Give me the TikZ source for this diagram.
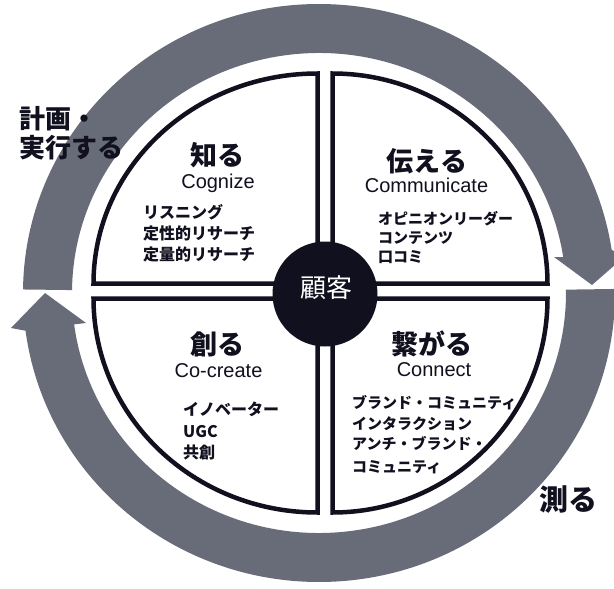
\documentclass[tikz,border=0pt]{standalone}
\usepackage{fontspec}
\setmainfont{Liberation Sans}
\newfontfamily\jp{Noto Sans CJK JP}
\usetikzlibrary{calc}
\definecolor{ringgray}{RGB}{104,108,120}
\definecolor{inkblack}{RGB}{16,16,30}
\begin{document}
\begin{tikzpicture}[x=1pt,y=-1pt,
  quad/.style={draw=inkblack,line width=4.5pt,fill=white,line join=miter},
  ringarrow/.style={fill=ringgray},
  jtitle/.style={font=\jp\bfseries\fontsize{27}{30}\selectfont,inner sep=0pt,text=inkblack},
  etitle/.style={font=\fontsize{20}{22}\selectfont,inner sep=0pt,anchor=base,text=inkblack},
  itemlist/.style={align=left,anchor=north west,inner sep=0pt,text=inkblack},
  sidelabel/.style={font=\jp\bfseries\fontsize{26}{29.5}\selectfont,inner sep=0pt,text=inkblack,align=left},
]
\useasboundingbox (0,0) rectangle (614,589);
\clip (0,0) rectangle (614,589);
\fill[white] (0,0) rectangle (614,589);

% ring of two arrows
\coordinate (R0) at (319,293);
\fill[ringarrow] ($(R0)+(179.3:296pt and 289pt)$)
  arc[start angle=179.3,end angle=8.6,x radius=296pt,y radius=289pt]
  -- (624,257) -- (592,285) -- (554,257)
  -- ($(R0)+(8.6:247pt and 240pt)$)
  arc[start angle=8.6,end angle=179.3,x radius=247pt,y radius=240pt] -- cycle;
\fill[ringarrow] ($(R0)+(0.8:296pt and 289pt)$)
  arc[start angle=0.8,end angle=-172.5,x radius=296pt,y radius=289pt]
  -- (11,328) -- (45,293) -- (86,323)
  -- ($(R0)+(-172.5:247pt and 240pt)$)
  arc[start angle=-172.5,end angle=0.8,x radius=247pt,y radius=240pt] -- cycle;

% four quadrants
\coordinate (G) at (325,291);
\draw[quad] ($(G)+(-7.5pt,7.5pt)$) -- ++(0pt,210pt)
  arc[start angle=90,end angle=180,x radius=224pt,y radius=210pt] -- cycle;
\draw[quad] ($(G)+(7.5pt,7.5pt)$) -- ++(215pt,0pt)
  arc[start angle=0,end angle=90,x radius=215pt,y radius=210pt] -- cycle;
\draw[quad] ($(G)+(-7.5pt,-7.5pt)$) -- ++(-224pt,0pt)
  arc[start angle=180,end angle=270,x radius=224pt,y radius=214pt] -- cycle;
\draw[quad] ($(G)+(7.5pt,-7.5pt)$) -- ++(0pt,-214pt)
  arc[start angle=270,end angle=360,x radius=215pt,y radius=214pt] -- cycle;

% hub
\node[circle,fill=inkblack,minimum size=105pt,inner sep=0pt] (hub) at (325,294) {};
\node[font=\jp\fontsize{26}{28}\selectfont,text=white,inner sep=0pt] (hublabel) at (326,288) {顧客};

% titles
\node[jtitle] (know) at (217,155) {知る};
\node[jtitle] (tell) at (427,161) {伝える};
\node[jtitle] (create) at (217.5,344) {創る};
\node[jtitle] (link) at (432,344) {繋がる};
\node[etitle] (cognize) at (218,188) {Cognize};
\node[etitle] (communicate) at (426.5,192) {Communicate};
\node[etitle] (cocreate) at (218.5,377) {Co-create};
\node[etitle] (connecten) at (434,376) {Connect};

% item lists
\node[itemlist,font=\jp\bfseries\fontsize{16}{21.3}\selectfont] (cogitems) at (143,204)
  {リスニング\\定性的リサーチ\\定量的リサーチ};
\node[itemlist,font=\jp\bfseries\fontsize{15}{18.6}\selectfont] (comitems) at (378,211.5)
  {オピニオンリーダー\\コンテンツ\\口コミ};
\node[itemlist,font=\jp\bfseries\fontsize{16}{21.5}\selectfont] (cocitems) at (183,402)
  {イノベーター\\UGC\\共創};
\node[itemlist,font=\jp\bfseries\fontsize{15}{20.5}\selectfont] (conitems) at (352,395.5)
  {ブランド・コミュニティ\\インタラクション\\アンチ・ブランド・\\[2pt]コミュニティ};

% side labels
\node[sidelabel,anchor=north west] (plan) at (19,106) {計画・\\実行する};
\node[jtitle,font=\jp\bfseries\fontsize{29}{31}\selectfont] (measure) at (568,500) {測る};
\end{tikzpicture}
\end{document}
